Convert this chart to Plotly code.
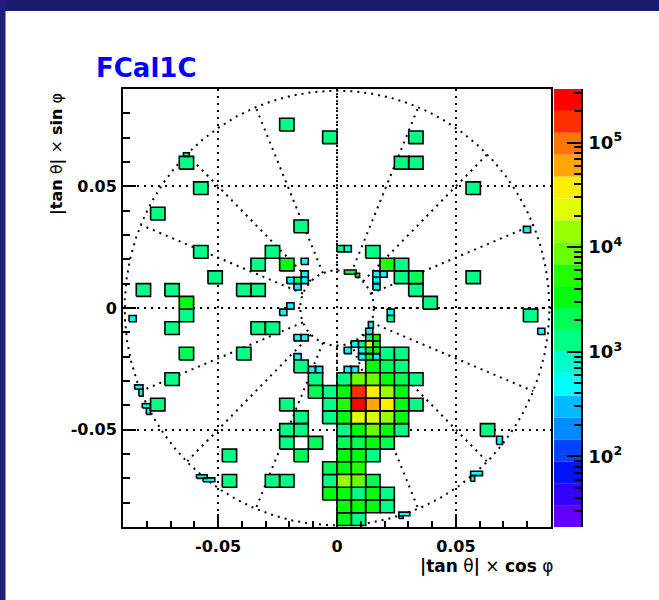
import colorsys
import math
import numpy as np
import plotly.graph_objects as go

# ---------------- data ----------------
TITLE = "FCal1C"
X_TITLE = "<b>|tan</b> θ<b>|</b> × <b>cos</b> φ"
Y_TITLE = "<b>|tan</b> θ<b>|</b> × <b>sin</b> φ"

x_tick_vals = [-0.05, 0.0, 0.05]
x_tick_text = ["-0.05", "0", "0.05"]
y_tick_vals = [-0.05, 0.0, 0.05]
y_tick_text = ["-0.05", "0", "0.05"]
z_tick_vals = [1e2, 1e3, 1e4, 1e5]
z_tick_text = ["10<sup>2</sup>", "10<sup>3</sup>", "10<sup>4</sup>", "10<sup>5</sup>"]

# cell grid (|tan theta| units)
CELL_DX = 0.00603
CELL_DY = 0.00523
ROW_Y0 = -0.00045

# full cells: column, row, content
full_col = [-4, -1, 5, -11, 4, 5, -10, 9, -13, -3, -10, -5, 2, -6, -4, 3, 4, -9, 4, 5, 9,
            -14, -12, -7, -6, 5, -11, 6, -11, 13, -12, -6, -5, -11, -7, 3, 4, -3, 2, 3, 4,
            -12, -2, 0, 1, 2, 3, 4, 5, -2, -1, 0, 1, 2, 3, 4, -13, -4, -1, 0, 1, 2, 3, 4, 5,
            -3, -1, 0, 1, 2, 3, 4, -4, -3, 0, 1, 2, 3, 4, 10, -4, -2, 0, 1, 2, 3,
            -8, -3, 0, 1, 2, -1, 0, 1, -8, -5, -4, -1, 0, 1, 2, -1, 0, 1, 2, 3,
            0, 1, 2, 3, 0, 1]
full_row = [14, 13, 13, 11, 11, 11, 9, 9, 7, 6, 4, 4, 4, 3, 3, 3, 3, 2, 2, 2, 2,
            1, 1, 1, 1, 1, 0, 0, -1, -1, -2, -2, -2, -4, -4, -4, -4, -5, -5, -5, -5,
            -6, -6, -6, -6, -6, -6, -6, -6, -7, -7, -7, -7, -7, -7, -7, -8, -8, -8, -8, -8, -8, -8, -8, -8,
            -9, -9, -9, -9, -9, -9, -9, -10, -10, -10, -10, -10, -10, -10, -10, -11, -11, -11, -11, -11, -11,
            -12, -12, -12, -12, -12, -13, -13, -13, -14, -14, -14, -14, -14, -14, -14, -15, -15, -15, -15, -15,
            -16, -16, -16, -16, -17, -17]
full_val = [1270, 1270, 1270, 1270, 1270, 1270, 1270, 1270, 1270, 1270, 1270, 1270, 1270, 1270, 3340, 5410, 1270, 1270, 1270, 2060, 1270,
            1270, 1270, 1270, 1270, 1270, 3340, 1270, 1270, 1270, 1270, 1270, 1270, 2060, 1270, 1270, 1270, 1270, 3340, 2060, 1270,
            1270, 1270, 1270, 8760, 8760, 3340, 2060, 1270, 2060, 1270, 3340, 158000, 37200, 14200, 3340, 1270, 1270, 1270, 5410, 256000, 60300, 37200, 3340, 1270,
            1270, 1270, 3340, 23000, 23000, 14200, 3340, 1270, 1270, 1270, 3340, 8760, 3340, 1270, 1270, 1270, 2060, 2060, 2060, 3340, 2060,
            1270, 2060, 3340, 3340, 1270, 2060, 3340, 5410, 1270, 1270, 1270, 1270, 14200, 8760, 2060, 3340, 3340, 1270, 3340, 1270,
            3340, 3340, 3340, 1270, 3340, 1270]

# half-size cells: column, row, half in x (0 left, 1 right), half in y (0 low, 1 high), content
half_col = [-3, -3, -4, -3, -3, -3, -4, -4, -15, 0, 0, 2, 3, 2, 2, 3, 3, 13, 14,
            -3, -3, -3, -2, -2, 0, 1, 0, 1, 1, 1, 1, 2, 2, 2, 2, 2, 2, 2, 2, 2]
half_row = [3, 2, 2, 2, 2, 1, 0, -1, -1, 4, 4, 2, 2, 2, 1, -1, -1, 6, -2,
            -3, -3, -4, -5, -5, -5, -5, -4, -3, -4, -4, -3, -2, -3, -3, -3, -3, -4, -4, -4, -4]
half_sx = [1, 1, 1, 0, 1, 0, 1, 0, 1, 0, 1, 1, 0, 1, 1, 1, 1, 0, 0,
           0, 1, 0, 0, 1, 1, 0, 1, 0, 1, 1, 1, 0, 0, 1, 0, 1, 0, 1, 0, 1]
half_sy = [1, 1, 0, 0, 0, 1, 0, 1, 0, 1, 1, 1, 1, 0, 1, 1, 0, 0, 0,
           1, 1, 0, 0, 0, 0, 0, 1, 0, 1, 0, 0, 0, 1, 1, 0, 0, 1, 1, 0, 0]
half_val = [480, 480, 480, 1270, 480, 480, 480, 480, 480, 1270, 790, 480, 480, 480, 480, 480, 1270, 480, 480,
            480, 480, 480, 480, 480, 480, 480, 480, 480, 480, 480, 1270, 480, 1270, 3340, 23000, 3340, 3340, 3340, 3340, 480]

# partial cells at the detector edges: x0, x1, y0, y1, content
part_x0 = [-0.0851, -0.0833, -0.0819, -0.0802, -0.0591, -0.0563, 0.0671, 0.0562, 0.0562, 0.0260, 0.0260, 0.0132, -0.0646, 0.0031, 0.0077]
part_x1 = [-0.0816, -0.0816, -0.0785, -0.0785, -0.0546, -0.0514, 0.0696, 0.0612, 0.0579, 0.0306, 0.0278, 0.0153, -0.0621, 0.0081, 0.0095]
part_y0 = [-0.0334, -0.0362, -0.0411, -0.0437, -0.0700, -0.0714, -0.0561, -0.0689, -0.0712, -0.0854, -0.0865, -0.0082, 0.0623, 0.0139, 0.0126]
part_y1 = [-0.0316, -0.0334, -0.0393, -0.0411, -0.0685, -0.0698, -0.0527, -0.0671, -0.0689, -0.0839, -0.0854, -0.0056, 0.0638, 0.0156, 0.0143]
part_val = [480, 480, 480, 480, 480, 480, 480, 480, 480, 480, 480, 480, 1270, 3340, 3340]

# detector outline
R_INNER = 0.0155
R_OUTER = 0.0893
N_SECTORS = 16

# colour scale (log z)
LOGZ_MIN = 1.325
LOGZ_MAX = 5.512
N_CONTOURS = 20

# ---------------- helpers ----------------
def palette_color(k):
    idx = int((k + 0.99) * 50 / N_CONTOURS)
    hue = 280.0 - (idx + 1) * 5.6
    r, g, b = colorsys.hls_to_rgb((hue % 360) / 360.0, 0.5, 1.0)
    return "rgb(%d,%d,%d)" % (round(r * 255), round(g * 255), round(b * 255))

band_colors = [palette_color(k) for k in range(N_CONTOURS)]
step = (LOGZ_MAX - LOGZ_MIN) / N_CONTOURS

def band_of(v):
    k = int(math.floor((math.log10(v) - LOGZ_MIN) / step))
    return min(max(k, 0), N_CONTOURS - 1)

rects = []  # (x0, x1, y0, y1, value)
for c, r, v in zip(full_col, full_row, full_val):
    x0 = c * CELL_DX
    y0 = ROW_Y0 + r * CELL_DY
    rects.append((x0, x0 + CELL_DX, y0, y0 + CELL_DY, v))
for c, r, sx, sy, v in zip(half_col, half_row, half_sx, half_sy, half_val):
    x0 = c * CELL_DX + sx * CELL_DX / 2
    y0 = ROW_Y0 + r * CELL_DY + sy * CELL_DY / 2
    rects.append((x0, x0 + CELL_DX / 2, y0, y0 + CELL_DY / 2, v))
for x0, x1, y0, y1, v in zip(part_x0, part_x1, part_y0, part_y1, part_val):
    rects.append((x0, x1, y0, y1, v))

fig = go.Figure()

# dotted detector outline (below the cells)
t = np.linspace(0, 2 * np.pi, 721)
for rr in (R_INNER, R_OUTER):
    fig.add_trace(go.Scatter(x=rr * np.cos(t), y=rr * np.sin(t), mode="lines",
                             line=dict(color="black", width=2, dash="2px,5px"),
                             hoverinfo="skip", showlegend=False))
rx, ry = [], []
for s in range(N_SECTORS):
    a = 2 * np.pi * s / N_SECTORS
    rx += [R_INNER * np.cos(a), R_OUTER * np.cos(a), None]
    ry += [R_INNER * np.sin(a), R_OUTER * np.sin(a), None]
fig.add_trace(go.Scatter(x=rx, y=ry, mode="lines",
                         line=dict(color="black", width=2, dash="2px,5px"),
                         hoverinfo="skip", showlegend=False))

# cells grouped by colour band
for k in range(N_CONTOURS):
    xs, ys = [], []
    for x0, x1, y0, y1, v in rects:
        if band_of(v) == k:
            xs += [x0, x1, x1, x0, x0, None]
            ys += [y0, y0, y1, y1, y0, None]
    if xs:
        fig.add_trace(go.Scatter(x=xs, y=ys, mode="lines", fill="toself",
                                 fillcolor=band_colors[k],
                                 line=dict(color="black", width=1.6),
                                 hoverinfo="skip", showlegend=False))

# colour bar bands
for k in range(N_CONTOURS):
    lo = 10 ** (LOGZ_MIN + k * step)
    hi = 10 ** (LOGZ_MIN + (k + 1) * step)
    fig.add_trace(go.Scatter(x=[0, 1, 1, 0, 0], y=[lo, lo, hi, hi, lo], mode="lines",
                             fill="toself", fillcolor=band_colors[k],
                             line=dict(width=0, color=band_colors[k]),
                             xaxis="x2", yaxis="y2", hoverinfo="skip", showlegend=False))

tick_font = dict(family="DejaVu Sans", size=16, color="black", weight="bold")
minor_xy = [round(v * 0.01, 2) for v in range(-8, 9) if v not in (-5, 0, 5)]
minor_z = [m * 10 ** e for e in range(1, 6) for m in range(2, 10)
           if LOGZ_MIN <= math.log10(m * 10 ** e) <= LOGZ_MAX]

common = dict(showline=True, linecolor="black", linewidth=2, mirror=True,
              ticks="inside", ticklen=13, tickwidth=1.5, tickcolor="black",
              showgrid=True, gridcolor="black", gridwidth=2, griddash="2px,5px",
              zeroline=False, tickfont=tick_font, tickmode="array",
              minor=dict(tickvals=minor_xy, ticks="inside", ticklen=6.5, tickwidth=1.5,
                         tickcolor="black", showgrid=False))

W, H = 659, 600
PLOT_BOTTOM = 527
ML, MR, MT = 123, 78, 89
MB = H - PLOT_BOTTOM
PW = W - ML - MR
PH = H - MT - MB
def px_x(p):
    return (p - ML) / PW
def px_y(p):
    return (PLOT_BOTTOM - p) / PH

fig.update_layout(
    width=W, height=H,
    margin=dict(l=ML, r=MR, t=MT, b=MB, pad=0),
    paper_bgcolor="white", plot_bgcolor="white",
    showlegend=False, hovermode=False,
    xaxis=dict(range=[-0.09, 0.09], domain=[0, px_x(551)], anchor="y",
               tickvals=x_tick_vals, ticktext=x_tick_text, ticklabelstandoff=4, **common),
    yaxis=dict(range=[-0.09, 0.09], domain=[0, 1], anchor="x",
               tickvals=y_tick_vals, ticktext=y_tick_text, ticklabelstandoff=1, **common),
    xaxis2=dict(range=[0, 1], domain=[px_x(554), 1], anchor="y2", visible=False),
    yaxis2=dict(type="log", range=[LOGZ_MIN, LOGZ_MAX], domain=[0, 1], anchor="x2",
                side="right", showline=True, linecolor="black", linewidth=1.5,
                ticks="inside", ticklen=14, tickwidth=1.5, tickcolor="black",
                tickmode="array", tickvals=z_tick_vals, ticktext=z_tick_text,
                tickfont=dict(family="DejaVu Sans", size=18, color="black", weight="bold"),
                ticklabelstandoff=2, showgrid=False, zeroline=False,
                minor=dict(tickvals=minor_z, ticks="inside", ticklen=7, tickwidth=1.5,
                           tickcolor="black", showgrid=False)),
    shapes=[
        dict(type="rect", xref="paper", yref="paper", x0=px_x(0), x1=px_x(W + 2), y0=px_y(11), y1=px_y(0),
             fillcolor="#1b1b70", line=dict(width=0), layer="above"),
        dict(type="rect", xref="paper", yref="paper", x0=px_x(0), x1=px_x(5.5), y0=px_y(H + 2), y1=px_y(0),
             fillcolor="#1f1f7a", line=dict(width=0), layer="above"),
    ],
    annotations=[
        dict(text="<b>%s</b>" % TITLE, xref="paper", yref="paper", x=px_x(94), y=px_y(68),
             xanchor="left", yanchor="middle", showarrow=False,
             font=dict(family="DejaVu Sans", size=26, color="#0000ff")),
        dict(text=X_TITLE, xref="paper", yref="paper", x=px_x(556), y=px_y(566),
             xanchor="right", yanchor="middle", showarrow=False,
             font=dict(family="DejaVu Sans", size=17, color="black")),
        dict(text=Y_TITLE, xref="paper", yref="paper", x=px_x(57), y=px_y(154),
             xanchor="center", yanchor="middle", showarrow=False, textangle=-90,
             font=dict(family="DejaVu Sans", size=16, color="black")),
    ],
)

fig.write_html("out.html")
